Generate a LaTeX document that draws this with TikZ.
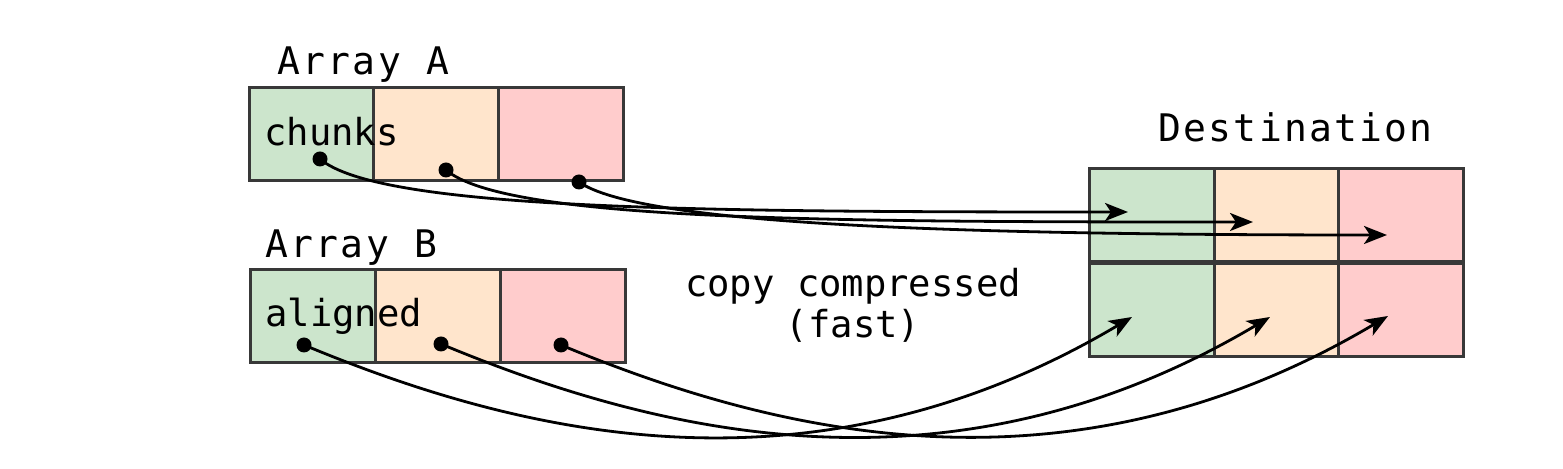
\documentclass[tikz,border=0pt]{standalone}
\usepackage{fontspec}
\setmonofont{DejaVu Sans Mono}
\newfontfamily\titlemono[LetterSpace=6]{DejaVu Sans Mono}
\usetikzlibrary{arrows.meta}
\definecolor{cgreen}{HTML}{CCE5CC}
\definecolor{cpeach}{HTML}{FFE5CC}
\definecolor{cpink}{HTML}{FFCCCC}
\definecolor{cborder}{HTML}{383838}
\begin{document}
\begin{tikzpicture}[x=0.5pt,y=-0.5pt,
  cellbox/.style={draw=cborder, line width=1.5pt, minimum width=62.5pt, minimum height=46.5pt, inner sep=0pt},
  ttl/.style={font=\titlemono\fontsize{19}{22}\selectfont, anchor=base west, inner sep=0pt},
  txt/.style={font=\ttfamily\fontsize{18.6}{22}\selectfont, inner sep=0pt},
  dotnode/.style={circle, fill=black, inner sep=0pt, minimum size=7.5pt},
  conn/.style={line width=1.4pt, -{Stealth[length=11.5pt,width=9pt,inset=3pt]}}
]
\useasboundingbox (0,0) rectangle (1563,469);

% Array A
\node[cellbox, fill=cgreen] (a1) at (311.5,134.5) {};
\node[cellbox, fill=cpeach] (a2) at (436,134.5) {};
\node[cellbox, fill=cpink]  (a3) at (561,134.5) {};
\node[ttl] (ta) at (277,75) {Array A};
\node[txt, anchor=base west] (chunks) at (264,146) {chunks};

% Array B
\node[cellbox, fill=cgreen] (b1) at (312.5,316.5) {};
\node[cellbox, fill=cpeach] (b2) at (437.5,316.5) {};
\node[cellbox, fill=cpink]  (b3) at (562.5,316.5) {};
\node[ttl] (tb) at (265,258) {Array B};
\node[txt, anchor=base west] (aligned) at (265,327) {aligned};

% Destination
\node[cellbox, fill=cgreen] (e1) at (1151.5,310) {};
\node[cellbox, fill=cpeach] (e2) at (1276.5,310) {};
\node[cellbox, fill=cpink]  (e3) at (1401,310) {};
\node[cellbox, fill=cgreen] (d1) at (1151.5,215) {};
\node[cellbox, fill=cpeach] (d2) at (1276.5,215) {};
\node[cellbox, fill=cpink]  (d3) at (1401,215) {};
\node[ttl] (td) at (1158,142) {Destination};

% middle label
\node[txt, anchor=base] (copy) at (853,297) {copy compressed};
\node[txt, anchor=base] (fast) at (853,338) {(fast)};

% dots
\node[dotnode] (pa1) at (320,159) {};
\node[dotnode] (pa2) at (446,170) {};
\node[dotnode] (pa3) at (579,182) {};
\node[dotnode] (pb1) at (304,345) {};
\node[dotnode] (pb2) at (441,344) {};
\node[dotnode] (pb3) at (561,345) {};

% arrow targets
\coordinate (qa1) at (1128,212);
\coordinate (qa2) at (1253,222);
\coordinate (qa3) at (1387,235);
\coordinate (qb1) at (1132,317);
\coordinate (qb2) at (1270,317);
\coordinate (qb3) at (1388,316);

% connectors
\draw[conn] (pa1.center) .. controls +(60,51) and +(-428,0) .. (qa1);
\draw[conn] (pa2.center) .. controls +(60,51) and +(-426,0) .. (qa2);
\draw[conn] (pa3.center) .. controls +(61,43) and +(-427,0) .. (qa3);
\draw[conn] (pb1.center) .. controls +(216,90) and +(-320,190) .. (qb1);
\draw[conn] (pb2.center) .. controls +(216,90) and +(-320,190) .. (qb2);
\draw[conn] (pb3.center) .. controls +(216,90) and +(-320,190) .. (qb3);
\end{tikzpicture}
\end{document}
